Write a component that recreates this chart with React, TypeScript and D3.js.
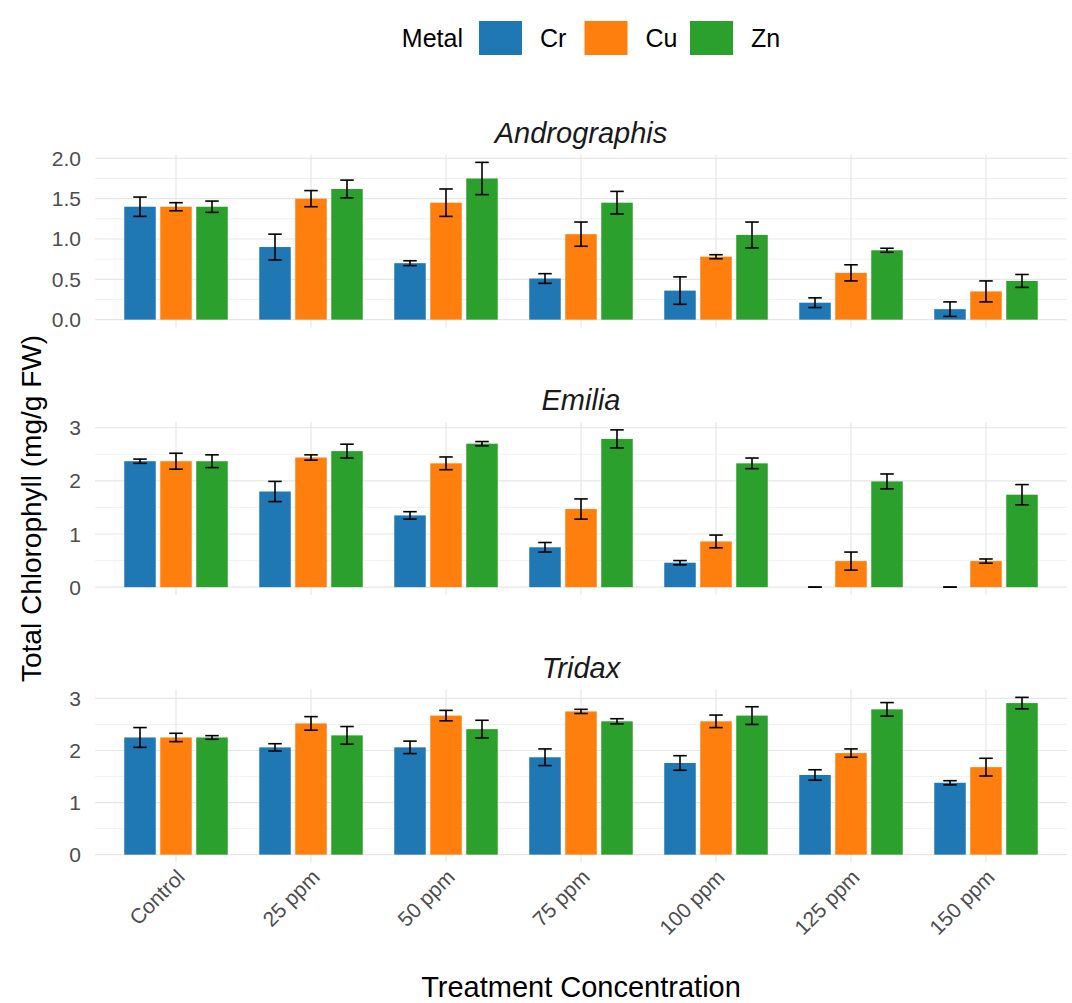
import React from "react";
import * as d3 from "d3";

const categories = ["Control", "25 ppm", "50 ppm", "75 ppm", "100 ppm", "125 ppm", "150 ppm"];
const metals = ["Cr", "Cu", "Zn"];
const species = ["Andrographis", "Emilia", "Tridax"];
const metalColors = ["#1f77b4", "#ff7f0e", "#2ca02c"];

// Andrographis
const androCr = [1.40, 0.90, 0.70, 0.51, 0.36, 0.21, 0.13];
const androCu = [1.40, 1.50, 1.45, 1.06, 0.78, 0.58, 0.35];
const androZn = [1.40, 1.62, 1.75, 1.45, 1.05, 0.86, 0.48];
const androCrSe = [0.12, 0.16, 0.03, 0.06, 0.17, 0.06, 0.09];
const androCuSe = [0.05, 0.10, 0.17, 0.15, 0.025, 0.10, 0.13];
const androZnSe = [0.07, 0.11, 0.20, 0.14, 0.16, 0.025, 0.08];

// Emilia
const emiliaCr = [2.37, 1.80, 1.35, 0.75, 0.46, 0, 0];
const emiliaCu = [2.37, 2.44, 2.33, 1.47, 0.86, 0.49, 0.49];
const emiliaZn = [2.37, 2.56, 2.70, 2.79, 2.33, 1.99, 1.74];
const emiliaCrSe = [0.04, 0.19, 0.07, 0.09, 0.04, 0, 0];
const emiliaCuSe = [0.15, 0.05, 0.12, 0.19, 0.12, 0.17, 0.04];
const emiliaZnSe = [0.12, 0.13, 0.04, 0.17, 0.10, 0.14, 0.19];

// Tridax
const tridaxCr = [2.25, 2.06, 2.06, 1.87, 1.76, 1.53, 1.38];
const tridaxCu = [2.25, 2.52, 2.67, 2.75, 2.56, 1.95, 1.68];
const tridaxZn = [2.25, 2.29, 2.41, 2.56, 2.67, 2.79, 2.91];
const tridaxCrSe = [0.19, 0.07, 0.12, 0.16, 0.14, 0.10, 0.04];
const tridaxCuSe = [0.08, 0.13, 0.10, 0.04, 0.12, 0.08, 0.17];
const tridaxZnSe = [0.035, 0.17, 0.17, 0.05, 0.17, 0.13, 0.11];

const yTicksAndro = [0, 0.5, 1.0, 1.5, 2.0];
const yTicksOther = [0, 1, 2, 3];

const xTitle = "Treatment Concentration";
const yTitle = "Total Chlorophyll (mg/g FW)";
const legendTitle = "Metal";

const panelsData = [
  { name: species[0], means: [androCr, androCu, androZn], ses: [androCrSe, androCuSe, androZnSe], ticks: yTicksAndro, fmt: d3.format(".1f") },
  { name: species[1], means: [emiliaCr, emiliaCu, emiliaZn], ses: [emiliaCrSe, emiliaCuSe, emiliaZnSe], ticks: yTicksOther, fmt: d3.format("d") },
  { name: species[2], means: [tridaxCr, tridaxCu, tridaxZn], ses: [tridaxCrSe, tridaxCuSe, tridaxZnSe], ticks: yTicksOther, fmt: d3.format("d") },
];

const W = 1072;
const H = 1003;
const panelLeft = 95;
const panelRight = 1067;
const panelTops = [154.5, 422, 689.5];
const panelH = 173;
const FONT = "'Liberation Sans', Arial, sans-serif";

export default function App() {
  const x = d3.scalePoint<string>().domain(categories).range([panelLeft, panelRight]).padding(0.6);
  const step = x.step();
  const dodge = d3.scaleLinear().domain([0, metals.length - 1]).range([-0.8 / 3 * step, 0.8 / 3 * step]);
  const barW = (0.7 / 3) * step;
  const capW = 0.1 * step;

  const legendKeyW = 43;
  const legendKeyH = 34;
  const legendY = 21;
  const legendX = d3.scaleLinear().domain([0, 1]).range([479, 584.5]);

  return (
    <svg width={W} height={H} style={{ position: "absolute", left: 0, top: 0, background: "#fff" }} fontFamily={FONT}>
      {/* Legend */}
      <text x={463} y={legendY + legendKeyH / 2} textAnchor="end" dominantBaseline="central" fontSize={25} fill="#000">{legendTitle}</text>
      {metals.map((m, i) => (
        <g key={m}>
          <rect x={legendX(i)} y={legendY} width={legendKeyW} height={legendKeyH} fill={metalColors[i]} />
          <text x={legendX(i) + legendKeyW + 18} y={legendY + legendKeyH / 2} dominantBaseline="central" fontSize={25} fill="#000">{m}</text>
        </g>
      ))}

      {panelsData.map((p, pi) => {
        const top = panelTops[pi];
        let maxV = 0;
        p.means.forEach((arr, mi) => arr.forEach((v, ci) => { maxV = Math.max(maxV, v + p.ses[mi][ci]); }));
        const pad = maxV * 0.05;
        const y = d3.scaleLinear().domain([-pad, maxV + pad]).range([top + panelH, top]);
        const majorStep = p.ticks[1] - p.ticks[0];
        const minor = d3.range(p.ticks[0] + majorStep / 2, maxV + pad, majorStep).filter((v) => !p.ticks.includes(v));
        return (
          <g key={p.name}>
            {minor.map((v) => (
              <line key={"mn" + v} x1={panelLeft} x2={panelRight} y1={y(v)} y2={y(v)} stroke="#ededed" strokeWidth={0.8} />
            ))}
            {p.ticks.map((v) => (
              <line key={"mj" + v} x1={panelLeft} x2={panelRight} y1={y(v)} y2={y(v)} stroke="#e6e6e6" strokeWidth={1.2} />
            ))}
            {categories.map((c) => (
              <line key={"vx" + c} x1={x(c)} x2={x(c)} y1={top} y2={top + panelH} stroke="#e6e6e6" strokeWidth={1.2} />
            ))}
            {p.ticks.map((v) => (
              <text key={"tl" + v} x={81} y={y(v)} textAnchor="end" dominantBaseline="central" fontSize={21} fill="#4d4d4d">{p.fmt(v)}</text>
            ))}
            <text x={(panelLeft + panelRight) / 2} y={top - 12} textAnchor="middle" fontSize={29} fontStyle="italic" fill="#1a1a1a">{p.name}</text>
            {metals.map((m, mi) =>
              categories.map((c, ci) => {
                const v = p.means[mi][ci];
                const cx = (x(c) as number) + dodge(mi);
                return (
                  <rect key={m + c} x={cx - barW / 2} y={y(Math.max(v, 0))} width={barW} height={Math.abs(y(0) - y(v))} fill={metalColors[mi]} />
                );
              })
            )}
            {metals.map((m, mi) =>
              categories.map((c, ci) => {
                const v = p.means[mi][ci];
                const se = p.ses[mi][ci];
                const cx = (x(c) as number) + dodge(mi);
                const y1 = y(v + se);
                const y2 = y(v - se);
                return (
                  <g key={"e" + m + c} stroke="#000" strokeWidth={1.6}>
                    <line x1={cx} x2={cx} y1={y1} y2={y2} />
                    <line x1={cx - capW / 2} x2={cx + capW / 2} y1={y1} y2={y1} />
                    <line x1={cx - capW / 2} x2={cx + capW / 2} y1={y2} y2={y2} />
                  </g>
                );
              })
            )}
          </g>
        );
      })}

      {/* X tick labels */}
      {categories.map((c) => {
        const ax = (x(c) as number) + 10;
        const ay = panelTops[2] + panelH + 16;
        return (
          <text key={"xl" + c} x={ax} y={ay} textAnchor="end" fontSize={21} fill="#4d4d4d" transform={`rotate(-45, ${ax}, ${ay})`}>{c}</text>
        );
      })}

      <text x={(panelLeft + panelRight) / 2} y={997} textAnchor="middle" fontSize={29} fill="#000">{xTitle}</text>
      <text transform={`translate(41, ${(panelTops[0] + panelTops[2] + panelH) / 2}) rotate(-90)`} textAnchor="middle" fontSize={28} fill="#000">{yTitle}</text>
    </svg>
  );
}
